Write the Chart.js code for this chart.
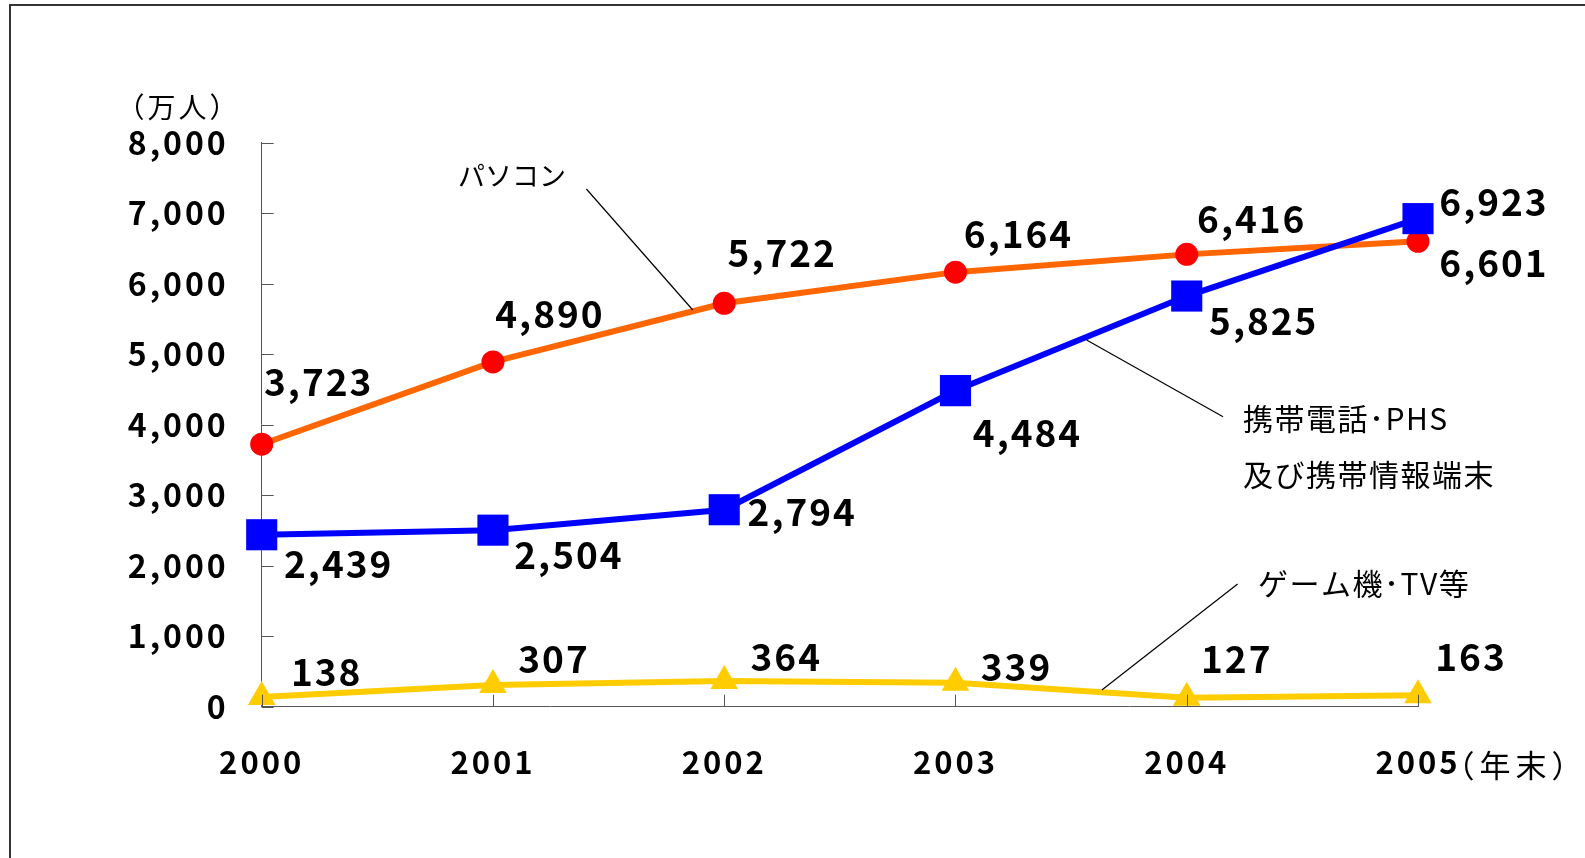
<!DOCTYPE html>
<html lang="ja">
<head>
<meta charset="utf-8">
<title>インターネット利用端末の推移</title>
<script src="https://cdn.jsdelivr.net/npm/chart.js@4.4.1/dist/chart.umd.min.js"></script>
<style>
  html, body { margin: 0; padding: 0; background: #ffffff; }
  #wrap { position: relative; width: 1585px; height: 858px; }
</style>
</head>
<body>
<div id="wrap"><canvas id="chart"></canvas></div>
<script>
// 年末ごとの利用者数（万人）
const years = ['2000', '2001', '2002', '2003', '2004', '2005'];
const pcUsers = [3723, 4890, 5722, 6164, 6416, 6601];
const mobileUsers = [2439, 2504, 2794, 4484, 5825, 6923];
const gameTvUsers = [138, 307, 364, 339, 127, 163];
const yTicks = [0, 1000, 2000, 3000, 4000, 5000, 6000, 7000, 8000];

// data label offsets from each point (px)
const mobileLabelOffsets = [[77, 29], [76, 25], [78, 2], [72, 42], [77, 25], [76, -17]];
const pcLabelOffsets = [[57, -62], [57, -48], [58, -50], [63, -38], [65, -35], [76, 22]];
const gameLabelOffsets = [[65, -25], [61, -26], [62, -24], [61, -16], [50, -39], [53, -38]];

const FONT = '"Noto Sans CJK JP", "Noto Sans", sans-serif';

const fmt = v => v.toLocaleString('en-US');

// frame, inward ticks, data labels and callouts
const decorPlugin = {
    id: 'decor',
    beforeDraw(chart) {
        chart.ctx.letterSpacing = '3px';
    },
    afterDraw(chart) {
        const ctx = chart.ctx;
        const xs = chart.scales.x;
        const ys = chart.scales.y;
        const area = chart.chartArea;
        ctx.save();

        // outer frame (only left and top visible)
        ctx.strokeStyle = '#333333';
        ctx.lineWidth = 2;
        ctx.beginPath();
        ctx.moveTo(10, 900);
        ctx.lineTo(10, 5);
        ctx.lineTo(1600, 5);
        ctx.stroke();

        // inward tick marks
        ctx.strokeStyle = '#555555';
        ctx.lineWidth = 1;
        ctx.beginPath();
        ys.ticks.forEach((t, i) => {
            const y = Math.round(ys.getPixelForTick(i)) + 0.5;
            ctx.moveTo(area.left, y);
            ctx.lineTo(area.left + 12, y);
        });
        xs.ticks.forEach((t, i) => {
            const x = Math.round(xs.getPixelForTick(i)) + 0.5;
            ctx.moveTo(x, area.bottom);
            ctx.lineTo(x, area.bottom - 12);
        });
        ctx.stroke();

        // callout leader lines (in data coordinates)
        const leaders = [
            [1.404, 7343, 1.864, 5627],
            [3.567, 5201, 4.157, 4114],
            [4.22, 1740, 3.633, 237]
        ];
        ctx.strokeStyle = '#000000';
        ctx.lineWidth = 1.2;
        leaders.forEach(l => {
            ctx.beginPath();
            ctx.moveTo(xs.getPixelForValue(l[0]), ys.getPixelForValue(l[1]));
            ctx.lineTo(xs.getPixelForValue(l[2]), ys.getPixelForValue(l[3]));
            ctx.stroke();
        });

        // data labels
        ctx.fillStyle = '#000000';
        ctx.textBaseline = 'middle';
        ctx.textAlign = 'center';
        ctx.font = 'bold 37px ' + FONT;
        ctx.letterSpacing = '2px';
        const offsets = [mobileLabelOffsets, pcLabelOffsets, gameLabelOffsets];
        chart.data.datasets.forEach((ds, di) => {
            const meta = chart.getDatasetMeta(di);
            meta.data.forEach((pt, i) => {
                const o = offsets[di][i];
                ctx.fillText(fmt(ds.data[i]), pt.x + o[0], pt.y + o[1]);
            });
        });

        // series names and units
        ctx.font = '27px ' + FONT;
        ctx.letterSpacing = '0px';
        ctx.textAlign = 'left';
        ctx.fillText('パソコン', 458, 176);
        ctx.font = '30px ' + FONT;
        ctx.letterSpacing = '1.5px';
        ctx.fillText('携帯電話･PHS', 1243, 419);
        ctx.fillText('及び携帯情報端末', 1243, 475);
        ctx.fillText('ゲーム機･TV等', 1258, 584);
        ctx.textAlign = 'center';
        ctx.font = '28px ' + FONT;
        ctx.letterSpacing = '3px';
        ctx.fillText('（万人）', 178.5, 107);
        ctx.font = '31px ' + FONT;
        ctx.letterSpacing = '5px';
        ctx.fillText('（年末）', 1515.5, 765);

        ctx.restore();
    }
};

const ctx = document.getElementById('chart').getContext('2d');
new Chart(ctx, {
    type: 'line',
    data: {
        labels: years,
        datasets: [
            {
                label: '携帯電話・PHS及び携帯情報端末',
                data: mobileUsers,
                borderColor: '#0000ff',
                backgroundColor: '#0000ff',
                borderWidth: 6,
                pointStyle: 'rect',
                pointRadius: 22,
                pointBorderWidth: 0,
                tension: 0,
                clip: false
            },
            {
                label: 'パソコン',
                data: pcUsers,
                borderColor: '#ff6600',
                backgroundColor: '#ff0000',
                borderWidth: 6,
                pointStyle: 'circle',
                pointRadius: 11.5,
                pointBorderWidth: 0,
                tension: 0,
                clip: false
            },
            {
                label: 'ゲーム機・TV等',
                data: gameTvUsers,
                borderColor: '#ffcc00',
                backgroundColor: '#ffcc00',
                borderWidth: 6,
                pointStyle: 'triangle',
                pointRadius: 16,
                pointBorderWidth: 0,
                tension: 0,
                clip: false
            }
        ]
    },
    options: {
        responsive: true,
        maintainAspectRatio: false,
        animation: false,
        layout: {
            padding: { top: 142.7, right: 167, bottom: 0, left: 0 }
        },
        scales: {
            x: {
                type: 'category',
                offset: false,
                grid: { display: false, drawTicks: false },
                border: { display: true, color: '#555555', width: 1 },
                ticks: {
                    color: '#000000',
                    font: { family: FONT, size: 31, weight: 'bold' },
                    padding: 37,
                    maxRotation: 0
                },
                afterFit(scale) { scale.height = 151.3; }
            },
            y: {
                min: 0,
                max: 8000,
                grid: { display: false, drawTicks: false },
                border: { display: true, color: '#555555', width: 1 },
                afterBuildTicks(scale) {
                    scale.ticks = yTicks.map(v => ({ value: v }));
                },
                ticks: {
                    color: '#000000',
                    font: { family: FONT, size: 32, weight: 'bold' },
                    padding: 33,
                    callback: v => fmt(v)
                },
                afterFit(scale) { scale.width = 261.7; }
            }
        },
        plugins: {
            legend: { display: false },
            tooltip: { enabled: false }
        }
    },
    plugins: [decorPlugin]
});
</script>
</body>
</html>
